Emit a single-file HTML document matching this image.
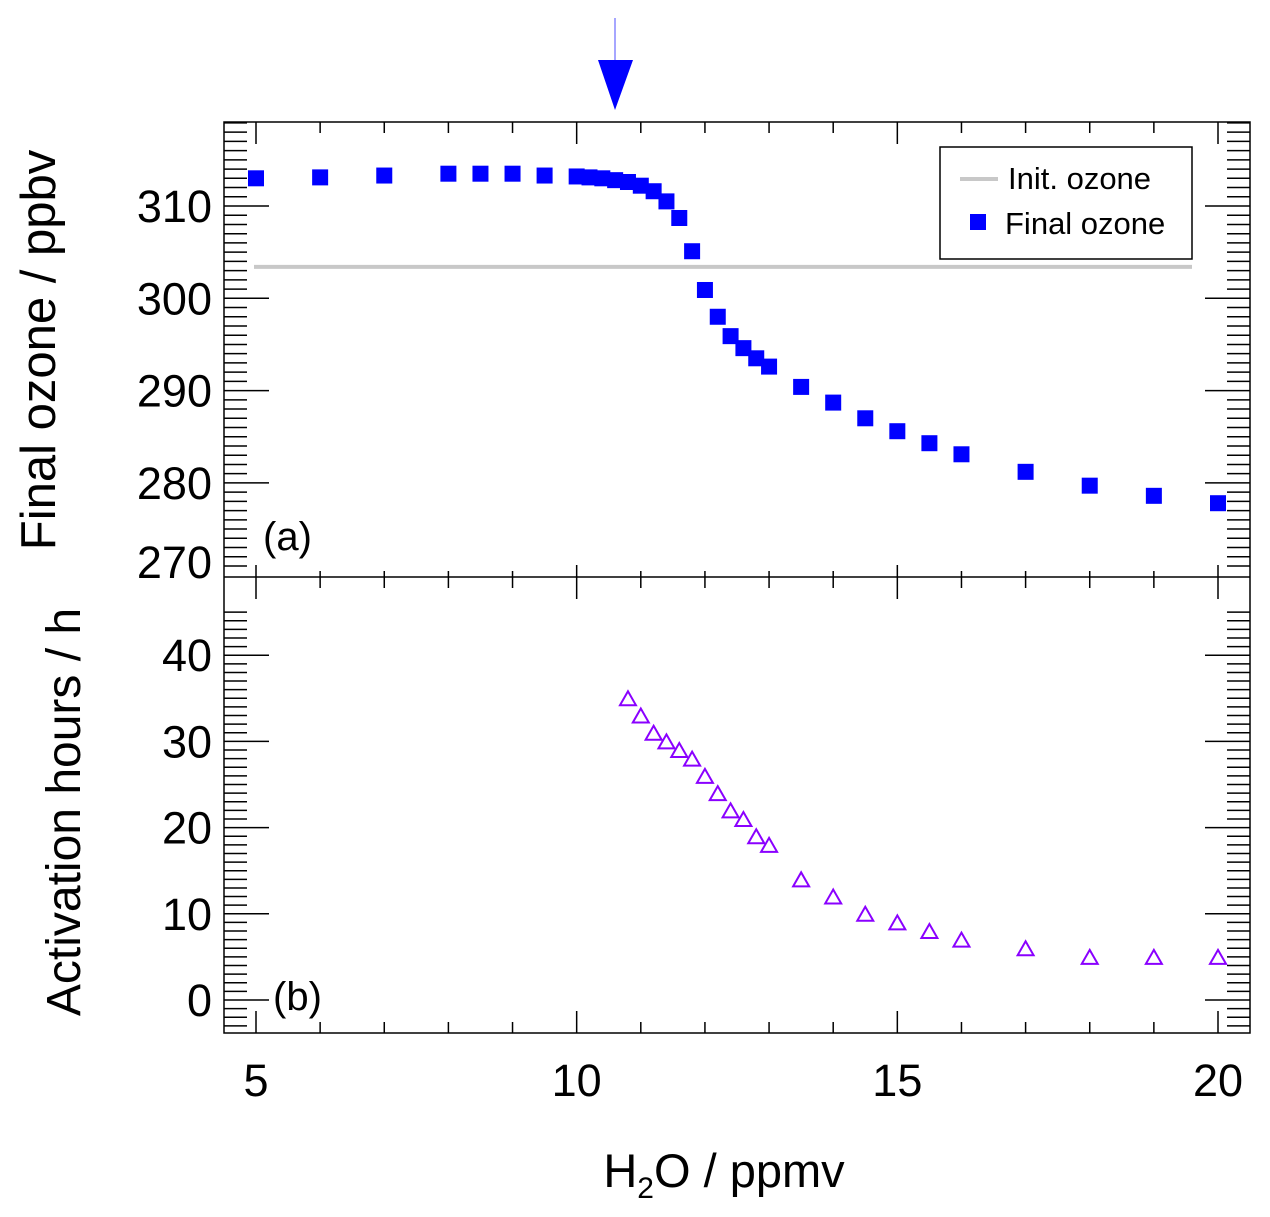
<!DOCTYPE html>
<html><head><meta charset="utf-8"><style>
body{margin:0;background:#fff}
svg{display:block;font-family:"Liberation Sans",sans-serif}
</style></head><body>
<svg id="chart" width="1270" height="1217" viewBox="0 0 1270 1217" xmlns="http://www.w3.org/2000/svg">
<g>
<line x1="615" y1="18" x2="615" y2="62" stroke="#8888ff" stroke-width="1.5"/>
<polygon points="598,60 633,60 615,110" fill="#0000ff"/>
</g>
<g id="axes"></g>
<g id="marks"></g>
<text transform="translate(55,350) rotate(-90)" text-anchor="middle" font-size="49">Final ozone / ppbv</text>
<text transform="translate(80,812) rotate(-90)" text-anchor="middle" font-size="48">Activation hours / h</text>
<text x="724" y="1187" text-anchor="middle" font-size="47">H<tspan font-size="30" dy="11">2</tspan><tspan dy="-11">O / ppmv</tspan></text>
<text x="263" y="550" font-size="40">(a)</text>
<text x="273" y="1010" font-size="40">(b)</text>
<g>
<rect x="940" y="147" width="252" height="112" fill="#fff" stroke="#000" stroke-width="1.5"/>
<line x1="960" y1="179" x2="998" y2="179" stroke="#c8c8c8" stroke-width="4"/>
<text x="1008" y="189" font-size="31">Init. ozone</text>
<rect x="970" y="214" width="16" height="16" fill="#0000ff"/>
<text x="1005" y="234" font-size="31">Final ozone</text>
</g>
</svg>
<script>
const xValues=[5,6,7,8,8.5,9,9.5,10,10.2,10.4,10.6,10.8,11,11.2,11.4,11.6,11.8,12,12.2,12.4,12.6,12.8,13,13.5,14,14.5,15,15.5,16,17,18,19,20];
const ozoneValues=[313.0,313.1,313.3,313.5,313.5,313.5,313.3,313.2,313.1,313.0,312.8,312.6,312.2,311.6,310.5,308.7,305.1,300.9,298.0,295.9,294.6,293.5,292.6,290.4,288.7,287.0,285.6,284.3,283.1,281.2,279.7,278.6,277.8];
const hoursX=[10.8,11,11.2,11.4,11.6,11.8,12,12.2,12.4,12.6,12.8,13,13.5,14,14.5,15,15.5,16,17,18,19,20];
const hoursValues=[35,33,31,30,29,28,26,24,22,21,19,18,14,12,10,9,8,7,6,5,5,5];
const initOzone=303.4;
const xTicks=[5,10,15,20];
const ozoneTicks=[270,280,290,300,310];
const hourTicks=[0,10,20,30,40];

const L=224,R=1250,T=122,M=577,B=1033;
const xs=v=>256+(v-5)*(1218-256)/15;
const yo=v=>206+(310-v)*9.23;
const yh=v=>1000-v*8.62;
const NS='http://www.w3.org/2000/svg';
function mk(parent,tag,at){const e=document.createElementNS(NS,tag);for(const k in at)e.setAttribute(k,at[k]);parent.appendChild(e);return e;}
const ax=document.getElementById('axes'),mg=document.getElementById('marks');
function ln(x1,y1,x2,y2,w){return mk(ax,'line',{x1,y1,x2,y2,stroke:'#000','stroke-width':w||1.5});}
const fr=mk(ax,'rect',{x:L,y:T,width:R-L,height:B-T,fill:'none',stroke:'#000','stroke-width':1.5});


ln(L,M,R,M);
for(let v=5;v<=20;v++){
  const x=xs(v),maj=v%5===0;
  ln(x,T,x,T+(maj?22:11));
  ln(x,B,x,B-(maj?22:11));
  ln(x,M-(maj?12:6),x,M+(maj?22:11));
}
for(let v=271;v<=319;v++){const y=yo(v);if(y<T||y>M)continue;const maj=v%10===0;
  ln(L,y,L+(maj?45:23),y);ln(R,y,R-(maj?45:23),y);}
for(let v=-3;v<=45;v++){const y=yh(v);if(y<M+2||y>B)continue;const maj=v%10===0;
  ln(L,y,L+(maj?45:23),y);ln(R,y,R-(maj?45:23),y);}
xTicks.forEach(v=>{const t=mk(ax,'text',{x:xs(v),y:1096,'text-anchor':'middle','font-size':45});t.textContent=v;

});
ozoneTicks.forEach(v=>{const t=mk(ax,'text',{x:212,y:(v===270?562:yo(v))+16,'text-anchor':'end','font-size':45});t.textContent=v;

});
hourTicks.forEach(v=>{const t=mk(ax,'text',{x:212,y:yh(v)+16,'text-anchor':'end','font-size':45});t.textContent=v;

});
const il=mk(mg,'line',{x1:xs(5)-2,x2:1192,y1:yo(initOzone),y2:yo(initOzone),stroke:'#c8c8c8','stroke-width':4});


xValues.forEach((x,i)=>{const r=mk(mg,'rect',{x:xs(x)-8,y:yo(ozoneValues[i])-8,width:16,height:16,fill:'#0000ff'});

});
hoursX.forEach((x,i)=>{const cx=xs(x),cy=yh(hoursValues[i]);
const p=mk(mg,'polygon',{points:`${cx-8},${cy+7} ${cx+8},${cy+7} ${cx},${cy-7}`,fill:'none',stroke:'#8a00ff','stroke-width':2});

});
</script>
</body></html>
